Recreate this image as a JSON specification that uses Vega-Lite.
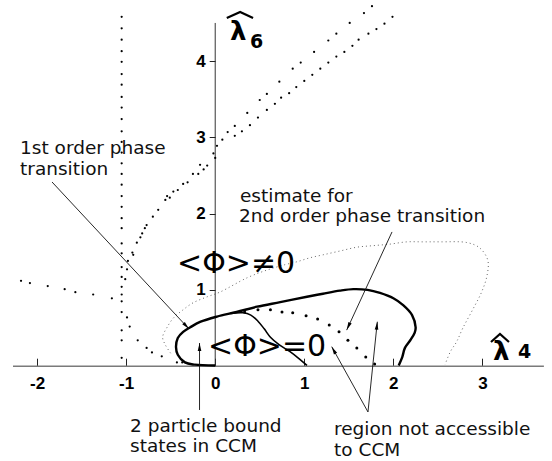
{
  "$schema": "https://vega.github.io/schema/vega-lite/v6.json",
  "width": 552,
  "height": 461,
  "padding": 0,
  "autosize": {"type": "none"},
  "background": "white",
  "config": {"view": {"stroke": null}},
  "datasets": {
    "xline": [{"x": -2.27, "x2": 3.69, "y": 0, "y2": 0}],
    "yline": [{"x": 0, "x2": 0, "y": 0, "y2": 4.5}],
    "outer": [
      {"x": 0.0, "y": 0.01}, {"x": -0.23, "y": 0.02}, {"x": -0.34, "y": 0.05}, {"x": -0.42, "y": 0.15},
      {"x": -0.44, "y": 0.25}, {"x": -0.42, "y": 0.37}, {"x": -0.36, "y": 0.45}, {"x": -0.28, "y": 0.51},
      {"x": -0.17, "y": 0.58}, {"x": 0.02, "y": 0.65}, {"x": 0.24, "y": 0.71}, {"x": 0.47, "y": 0.78},
      {"x": 0.73, "y": 0.84}, {"x": 1.03, "y": 0.91}, {"x": 1.21, "y": 0.95}, {"x": 1.4, "y": 0.99},
      {"x": 1.55, "y": 1.01}, {"x": 1.71, "y": 1.0}, {"x": 1.85, "y": 0.96}, {"x": 2.0, "y": 0.89},
      {"x": 2.11, "y": 0.8}, {"x": 2.21, "y": 0.67}, {"x": 2.25, "y": 0.51}, {"x": 2.24, "y": 0.44},
      {"x": 2.19, "y": 0.34}, {"x": 2.13, "y": 0.24}, {"x": 2.1, "y": 0.12}, {"x": 2.06, "y": 0.01}
    ],
    "inner": [
      {"x": 0.17, "y": 0.69}, {"x": 0.31, "y": 0.7}, {"x": 0.4, "y": 0.67}, {"x": 0.48, "y": 0.59},
      {"x": 0.55, "y": 0.49}, {"x": 0.62, "y": 0.38}, {"x": 0.72, "y": 0.28}, {"x": 0.84, "y": 0.19},
      {"x": 0.94, "y": 0.1}, {"x": 1.03, "y": 0.01}
    ],
    "fine": [
      {"x": -0.5, "y": 0.17}, {"x": -0.56, "y": 0.28}, {"x": -0.59, "y": 0.38}, {"x": -0.54, "y": 0.51},
      {"x": -0.47, "y": 0.63}, {"x": -0.36, "y": 0.74}, {"x": -0.25, "y": 0.83}, {"x": -0.09, "y": 0.91},
      {"x": 0.05, "y": 0.97}, {"x": 0.36, "y": 1.16}, {"x": 0.58, "y": 1.26}, {"x": 0.78, "y": 1.33},
      {"x": 0.92, "y": 1.37}, {"x": 1.06, "y": 1.42}, {"x": 1.21, "y": 1.46}, {"x": 1.4, "y": 1.51},
      {"x": 1.59, "y": 1.56}, {"x": 1.77, "y": 1.58}, {"x": 1.96, "y": 1.6}, {"x": 2.15, "y": 1.63},
      {"x": 2.33, "y": 1.63}, {"x": 2.52, "y": 1.63}, {"x": 2.83, "y": 1.62}, {"x": 2.97, "y": 1.55},
      {"x": 3.06, "y": 1.39}, {"x": 3.05, "y": 1.18}, {"x": 2.99, "y": 0.97}, {"x": 2.89, "y": 0.74},
      {"x": 2.78, "y": 0.5}, {"x": 2.71, "y": 0.32}, {"x": 2.64, "y": 0.19}, {"x": 2.58, "y": 0.02}
    ],
    "estimate": [
      {"x": 0.33, "y": 0.71}, {"x": 0.48, "y": 0.74}, {"x": 0.62, "y": 0.74}, {"x": 0.75, "y": 0.71},
      {"x": 0.87, "y": 0.7}, {"x": 1.02, "y": 0.66}, {"x": 1.15, "y": 0.62}, {"x": 1.28, "y": 0.54},
      {"x": 1.39, "y": 0.45}, {"x": 1.49, "y": 0.34}, {"x": 1.59, "y": 0.24}, {"x": 1.69, "y": 0.12},
      {"x": 1.79, "y": 0.03}
    ],
    "dots": [
      {"x": -1.05, "y": 4.58}, {"x": -1.05, "y": 4.43}, {"x": -1.05, "y": 4.28}, {"x": -1.05, "y": 4.13},
      {"x": -1.05, "y": 3.99}, {"x": -1.05, "y": 3.83}, {"x": -1.05, "y": 3.69}, {"x": -1.05, "y": 3.53},
      {"x": -1.05, "y": 3.39}, {"x": -1.05, "y": 3.24}, {"x": -1.05, "y": 3.08}, {"x": -1.05, "y": 2.94},
      {"x": -1.05, "y": 2.8}, {"x": -1.05, "y": 2.66}, {"x": -1.05, "y": 2.52}, {"x": -1.05, "y": 2.38},
      {"x": -1.05, "y": 2.23}, {"x": -1.05, "y": 2.09}, {"x": -1.05, "y": 1.94}, {"x": -1.05, "y": 1.81},
      {"x": -1.05, "y": 1.61}, {"x": -1.05, "y": 1.48}, {"x": -1.05, "y": 1.3}, {"x": -1.05, "y": 1.17},
      {"x": -1.05, "y": 1.04}, {"x": -1.05, "y": 0.94}, {"x": -1.05, "y": 0.85}, {"x": -1.05, "y": 0.71},
      {"x": -0.99, "y": 0.64}, {"x": -1.05, "y": 0.47}, {"x": -1.05, "y": 0.34}, {"x": -1.05, "y": 0.11},
      {"x": 1.76, "y": 4.72}, {"x": 1.67, "y": 4.63}, {"x": 1.51, "y": 4.5}, {"x": 1.36, "y": 4.36},
      {"x": 1.27, "y": 4.27}, {"x": 1.11, "y": 4.12}, {"x": 0.96, "y": 3.98}, {"x": 0.87, "y": 3.9},
      {"x": 0.72, "y": 3.73}, {"x": 0.58, "y": 3.57}, {"x": 0.5, "y": 3.49}, {"x": 0.36, "y": 3.32},
      {"x": 0.22, "y": 3.15}, {"x": 0.14, "y": 3.07}, {"x": 0.08, "y": 2.97},
      {"x": 1.99, "y": 4.58}, {"x": 1.9, "y": 4.49}, {"x": 1.81, "y": 4.42}, {"x": 1.72, "y": 4.36},
      {"x": 1.61, "y": 4.28}, {"x": 1.54, "y": 4.2}, {"x": 1.45, "y": 4.12}, {"x": 1.36, "y": 4.06},
      {"x": 1.27, "y": 3.98}, {"x": 1.18, "y": 3.9}, {"x": 1.09, "y": 3.82}, {"x": 1.0, "y": 3.74},
      {"x": 0.91, "y": 3.66}, {"x": 0.83, "y": 3.58}, {"x": 0.74, "y": 3.52}, {"x": 0.67, "y": 3.44},
      {"x": 0.58, "y": 3.36}, {"x": 0.48, "y": 3.26}, {"x": 0.39, "y": 3.16}, {"x": 0.3, "y": 3.08},
      {"x": 0.22, "y": 3.02},
      {"x": 0.02, "y": 2.89}, {"x": -0.02, "y": 2.79}, {"x": 0.0, "y": 2.73}, {"x": -0.09, "y": 2.63},
      {"x": -0.17, "y": 2.64}, {"x": -0.13, "y": 2.58}, {"x": -0.19, "y": 2.52}, {"x": -0.25, "y": 2.52},
      {"x": -0.31, "y": 2.41}, {"x": -0.36, "y": 2.39}, {"x": -0.42, "y": 2.31}, {"x": -0.47, "y": 2.29},
      {"x": -0.51, "y": 2.21}, {"x": -0.54, "y": 2.23}, {"x": -0.56, "y": 2.18}, {"x": -0.64, "y": 2.05},
      {"x": -0.7, "y": 1.96}, {"x": -0.77, "y": 1.85}, {"x": -0.79, "y": 1.81}, {"x": -0.82, "y": 1.74},
      {"x": -0.84, "y": 1.69}, {"x": -0.88, "y": 1.62}, {"x": -0.93, "y": 1.49}, {"x": -0.92, "y": 1.46},
      {"x": -0.98, "y": 1.38}, {"x": -0.99, "y": 1.27}, {"x": -1.01, "y": 1.14},
      {"x": -2.18, "y": 1.12}, {"x": -2.08, "y": 1.09}, {"x": -1.88, "y": 1.05}, {"x": -1.69, "y": 1.01},
      {"x": -1.57, "y": 0.97}, {"x": -1.37, "y": 0.94}, {"x": -1.16, "y": 0.89},
      {"x": -0.96, "y": 0.52}, {"x": -0.87, "y": 0.34}, {"x": -0.77, "y": 0.24}, {"x": -0.71, "y": 0.18},
      {"x": -0.6, "y": 0.13}, {"x": -0.43, "y": 0.05}, {"x": -0.37, "y": 0.05}
    ],
    "arrows": [
      {"id": 1, "x": -1.832, "y": 2.415, "x2": -0.294, "y2": 0.488},
      {"id": 2, "x": 1.985, "y": 1.76, "x2": 1.476, "y2": 0.473},
      {"id": 3, "x": -0.176, "y": -0.574, "x2": -0.176, "y2": 0.304},
      {"id": 4, "x": 1.715, "y": -0.6, "x2": 1.308, "y2": 0.256},
      {"id": 5, "x": 1.715, "y": -0.6, "x2": 1.82, "y2": 0.583}
    ],
    "notes": [
      {"x": -2.191, "y": 2.782, "text": "1st order phase"},
      {"x": -2.191, "y": 2.507, "text": "transition"},
      {"x": 0.278, "y": 2.15, "text": "estimate for"},
      {"x": 0.267, "y": 1.89, "text": "2nd order phase transition"},
      {"x": -0.956, "y": -0.86, "text": "2 particle bound"},
      {"x": -0.956, "y": -1.125, "text": "states in CCM"},
      {"x": 1.334, "y": -0.905, "text": "region not accessible"},
      {"x": 1.334, "y": -1.172, "text": "to CCM"}
    ],
    "phases": [
      {"x": -0.429, "y": 1.222, "text": "<Φ>≠0"},
      {"x": -0.081, "y": 0.134, "text": "<Φ>=0"}
    ],
    "lambda": [
      {"x": 0.166, "y": 4.277, "text": "λ"},
      {"x": 3.119, "y": 0.081, "text": "λ"}
    ],
    "subscripts": [
      {"x": 0.39, "y": 4.17, "text": "6"},
      {"x": 3.4, "y": 0.108, "text": "4"}
    ],
    "hats": [
      {"h": "a", "x": 0.13, "y": 4.565}, {"h": "a", "x": 0.28, "y": 4.643}, {"h": "a", "x": 0.425, "y": 4.565},
      {"h": "b", "x": 3.096, "y": 0.317}, {"h": "b", "x": 3.197, "y": 0.422}, {"h": "b", "x": 3.298, "y": 0.317}
    ]
  },
  "encoding": {
    "x": {
      "field": "x",
      "type": "quantitative",
      "scale": {"domain": [-2.416, 3.781], "nice": false, "zero": false},
      "axis": {
        "orient": "bottom",
        "offset": -94.8,
        "values": [-2, -1, 0, 1, 2, 3],
        "labelExpr": "'' + datum.value",
        "domain": false,
        "grid": false,
        "tickSize": -8,
        "tickColor": "#222",
        "tickWidth": 1,
        "labelPadding": 17,
        "labelFont": "Liberation Sans",
        "labelFontSize": 17,
        "labelFontWeight": "bold",
        "labelColor": "#000",
        "title": null
      }
    },
    "y": {
      "field": "y",
      "type": "quantitative",
      "scale": {"domain": [-1.243, 4.801], "nice": false, "zero": false},
      "axis": {
        "orient": "left",
        "offset": -215.2,
        "values": [1, 2, 3, 4],
        "labelExpr": "'' + datum.value",
        "domain": false,
        "grid": false,
        "tickSize": 6,
        "tickColor": "#222",
        "tickWidth": 1,
        "labelPadding": 4,
        "labelFont": "Liberation Sans",
        "labelFontSize": 17,
        "labelFontWeight": "bold",
        "labelColor": "#000",
        "title": null
      }
    }
  },
  "layer": [
    {
      "data": {"name": "xline"},
      "mark": {"type": "rule", "color": "#7a7a7a", "strokeWidth": 1.6},
      "encoding": {"x2": {"field": "x2"}, "y2": {"field": "y2"}}
    },
    {
      "data": {"name": "yline"},
      "mark": {"type": "rule", "color": "#333", "strokeWidth": 1},
      "encoding": {"x2": {"field": "x2"}, "y2": {"field": "y2"}}
    },
    {
      "data": {"name": "fine"},
      "mark": {"type": "line", "color": "#666", "strokeWidth": 1, "strokeDash": [1, 3], "interpolate": "catmull-rom"},
      "encoding": {"order": {"value": null}}
    },
    {
      "data": {"name": "outer"},
      "mark": {"type": "line", "color": "#000", "strokeWidth": 2.4, "interpolate": "catmull-rom"},
      "encoding": {"order": {"value": null}}
    },
    {
      "data": {"name": "inner"},
      "mark": {"type": "line", "color": "#000", "strokeWidth": 1.6, "interpolate": "catmull-rom"},
      "encoding": {"order": {"value": null}}
    },
    {
      "data": {"name": "dots"},
      "mark": {"type": "point", "shape": "circle", "filled": true, "color": "#000", "opacity": 1, "size": 5}
    },
    {
      "data": {"name": "estimate"},
      "mark": {"type": "point", "shape": "circle", "filled": true, "color": "#000", "opacity": 1, "size": 9}
    },
    {
      "data": {"name": "arrows"},
      "mark": {"type": "rule", "color": "#111", "strokeWidth": 0.9},
      "encoding": {"x2": {"field": "x2"}, "y2": {"field": "y2"}}
    },
    {
      "data": {"name": "arrows"},
      "transform": [{"filter": "datum.id == 1"}],
      "mark": {"type": "point", "shape": "M0,0L-0.45,2L0.45,2Z", "filled": true, "color": "#000", "opacity": 1, "size": 64, "angle": 137},
      "encoding": {"x": {"field": "x2", "type": "quantitative"}, "y": {"field": "y2", "type": "quantitative"}}
    },
    {
      "data": {"name": "arrows"},
      "transform": [{"filter": "datum.id == 2"}],
      "mark": {"type": "point", "shape": "M0,0L-0.45,2L0.45,2Z", "filled": true, "color": "#000", "opacity": 1, "size": 64, "angle": 204.8},
      "encoding": {"x": {"field": "x2", "type": "quantitative"}, "y": {"field": "y2", "type": "quantitative"}}
    },
    {
      "data": {"name": "arrows"},
      "transform": [{"filter": "datum.id == 3"}],
      "mark": {"type": "point", "shape": "M0,0L-0.45,2L0.45,2Z", "filled": true, "color": "#000", "opacity": 1, "size": 64, "angle": 0},
      "encoding": {"x": {"field": "x2", "type": "quantitative"}, "y": {"field": "y2", "type": "quantitative"}}
    },
    {
      "data": {"name": "arrows"},
      "transform": [{"filter": "datum.id == 4"}],
      "mark": {"type": "point", "shape": "M0,0L-0.45,2L0.45,2Z", "filled": true, "color": "#000", "opacity": 1, "size": 64, "angle": -28.7},
      "encoding": {"x": {"field": "x2", "type": "quantitative"}, "y": {"field": "y2", "type": "quantitative"}}
    },
    {
      "data": {"name": "arrows"},
      "transform": [{"filter": "datum.id == 5"}],
      "mark": {"type": "point", "shape": "M0,0L-0.45,2L0.45,2Z", "filled": true, "color": "#000", "opacity": 1, "size": 64, "angle": 5.8},
      "encoding": {"x": {"field": "x2", "type": "quantitative"}, "y": {"field": "y2", "type": "quantitative"}}
    },
    {
      "data": {"name": "notes"},
      "mark": {"type": "text", "font": "DejaVu Sans", "fontSize": 18.5, "align": "left", "baseline": "alphabetic", "color": "#111"},
      "encoding": {"text": {"field": "text"}}
    },
    {
      "data": {"name": "phases"},
      "mark": {"type": "text", "font": "DejaVu Sans", "fontSize": 30, "align": "left", "baseline": "alphabetic", "color": "#000"},
      "encoding": {"text": {"field": "text"}}
    },
    {
      "data": {"name": "lambda"},
      "mark": {"type": "text", "font": "DejaVu Sans", "fontWeight": "bold", "fontSize": 26, "align": "left", "baseline": "alphabetic", "color": "#000"},
      "encoding": {"text": {"field": "text"}}
    },
    {
      "data": {"name": "subscripts"},
      "mark": {"type": "text", "font": "DejaVu Sans", "fontWeight": "bold", "fontSize": 19, "align": "left", "baseline": "alphabetic", "color": "#000"},
      "encoding": {"text": {"field": "text"}}
    },
    {
      "data": {"name": "hats"},
      "mark": {"type": "line", "color": "#000", "strokeWidth": 2.2},
      "encoding": {"detail": {"field": "h"}, "order": {"value": null}}
    }
  ]
}
